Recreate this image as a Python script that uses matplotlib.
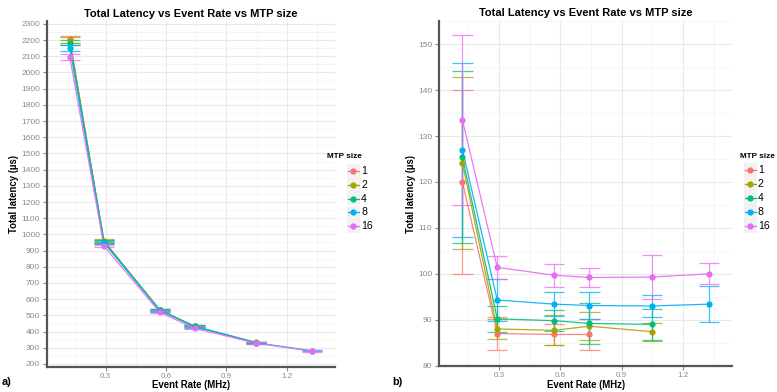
import numpy as np
import matplotlib
matplotlib.use('Agg')
import matplotlib.pyplot as plt
from matplotlib.ticker import MultipleLocator
from matplotlib.lines import Line2D
from matplotlib.patches import Rectangle

##################
# Data
##################

event_rate = [0.122, 0.292, 0.570, 0.742, 1.047, 1.326]
mtp_sizes = ['1', '2', '4', '8', '16']
colors = ['#F8766D', '#A3A500', '#00BF7D', '#00B0F6', '#E76BF3']

# a) total latency, all rates
lat_a = {
    '1': [2205, 955, 532, 432],
    '2': [2200, 960, 533, 433, 333],
    '4': [2185, 955, 531, 432, 332],
    '8': [2150, 948, 529, 430, 331, 281],
    '16': [2095, 928, 518, 420, 328, 279],
}
err_a = {
    '1': [21, 10, 8, 6],
    '2': [18, 9, 7, 6, 5],
    '4': [16, 9, 7, 6, 5],
    '8': [18, 10, 7, 6, 5, 4],
    '16': [20, 8, 6, 5, 5, 4],
}

# b) total latency, zoomed
lat_b = {
    '1': [120.0, 87.0, 86.8, 86.8],
    '2': [124.1, 88.0, 87.7, 88.6, 87.4],
    '4': [125.4, 90.2, 89.8, 89.2, 89.0],
    '8': [127.0, 94.3, 93.4, 93.1, 93.0, 93.4],
    '16': [133.5, 101.4, 99.7, 99.2, 99.3, 100.0],
}
err_b = {
    '1': [20.0, 3.5, 2.2, 3.4],
    '2': [18.7, 2.2, 3.3, 3.0, 2.0],
    '4': [18.7, 2.9, 2.3, 4.5, 3.4],
    '8': [19.0, 4.6, 2.6, 3.0, 2.3, 3.9],
    '16': [18.5, 2.5, 2.5, 2.0, 4.7, 2.3],
}

##################
# Style
##################

plt.rcParams['font.family'] = ['Liberation Sans', 'DejaVu Sans']
tick_color = '#8a8a8a'
axis_color = '#555555'

W, H = 777, 392
fig = plt.figure(figsize=(W / 100, H / 100), dpi=100, facecolor='white')


def px(x, y):
    return x / W, 1 - y / H


def panel(ax, lat, err, ylim, ymajor, yminor):
    for s, c in zip(mtp_sizes, colors):
        y = np.array(lat[s])
        e = np.array(err[s])
        x = np.array(event_rate[:len(y)])
        ax.vlines(x, y - e, y + e, color=c, lw=0.9, alpha=0.75, zorder=2)
        ax.hlines(y - e, x - 0.05, x + 0.05, color=c, lw=0.9, alpha=0.75, zorder=2)
        ax.hlines(y + e, x - 0.05, x + 0.05, color=c, lw=0.9, alpha=0.75, zorder=2)
        ax.plot(x, y, color=c, lw=0.9, alpha=0.9, zorder=3)
        ax.plot(x, y, 'o', color=c, ms=4.5, mec='none', zorder=4)
    ax.set_xlim(0.009, 1.44)
    ax.set_ylim(*ylim)
    ax.xaxis.set_major_locator(MultipleLocator(0.3))
    ax.xaxis.set_minor_locator(MultipleLocator(0.15))
    ax.yaxis.set_major_locator(MultipleLocator(ymajor))
    ax.yaxis.set_minor_locator(MultipleLocator(yminor))
    ax.set_xticks([0.3, 0.6, 0.9, 1.2])
    ax.set_xticklabels(['0.3', '0.6', '0.9', '1.2'])
    ax.grid(which='major', color='#e9e9e9', lw=0.8, zorder=0)
    ax.grid(which='minor', color='#f4f4f4', lw=0.6, zorder=0)
    ax.set_axisbelow(True)
    for sp in ['top', 'right']:
        ax.spines[sp].set_visible(False)
    for sp in ['left', 'bottom']:
        ax.spines[sp].set_color(axis_color)
        ax.spines[sp].set_linewidth(1.6)
    ax.tick_params(which='major', length=3, width=0.8, color=tick_color,
                   labelcolor=tick_color, labelsize=6, pad=2)
    ax.tick_params(axis='x', which='major', pad=1.5, labelsize=5.8)
    ax.tick_params(which='minor', length=0)


def legend(x_title, y_title, x_key, y_keys, x_label):
    fig.text(*px(x_title, y_title), 'MTP size', fontsize=5.9, fontweight='bold',
             va='center', ha='left')
    for s, c, yk in zip(mtp_sizes, colors, y_keys):
        fx, fy = px(x_key, yk)
        fig.patches.append(Rectangle((fx - 6.5 / W, fy - 6.8 / H), 13 / W, 13.6 / H,
                                     transform=fig.transFigure, facecolor='#f2f2f2',
                                     edgecolor='none'))
        fig.add_artist(Line2D([fx - 5.5 / W, fx + 5.5 / W], [fy, fy], color=c, lw=0.9,
                              transform=fig.transFigure))
        fig.add_artist(Line2D([fx], [fy], marker='o', ms=4.5, color=c, mec='none',
                              transform=fig.transFigure))
        fig.text(*px(x_label, yk), s, fontsize=7.6, va='center', ha='left')


##################
# a) panel
##################

ax1 = fig.add_axes([47 / W, 1 - 367 / H, 288 / W, 346 / H])
panel(ax1, lat_a, err_a, (181, 2318), 100, 50)
fig.text(*px(191, 14), 'Total Latency vs Event Rate vs MTP size', fontsize=8,
         fontweight='bold', ha='center', va='center')
fig.text(*px(191, 385.5), 'Event Rate (MHz)', fontsize=6.9, fontweight='bold',
         ha='center', va='center')
fig.text(*px(14, 194), 'Total latency (\u00b5s)', fontsize=6.9, fontweight='bold',
         ha='center', va='center', rotation=90)
fig.text(*px(2, 382), 'a)', fontsize=7.8, fontweight='bold', ha='left', va='center')
legend(327, 157, 353, [171, 184.8, 198.6, 212.4, 226.2], 361)

##################
# b) panel
##################

ax2 = fig.add_axes([439.3 / W, 1 - 365.7 / H, 293 / W, 345 / H])
panel(ax2, lat_b, err_b, (80, 155.1), 10, 5)
fig.text(*px(586, 13), 'Total Latency vs Event Rate vs MTP size', fontsize=8,
         fontweight='bold', ha='center', va='center')
fig.text(*px(586, 385), 'Event Rate (MHz)', fontsize=6.9, fontweight='bold',
         ha='center', va='center')
fig.text(*px(411, 194), 'Total latency (\u00b5s)', fontsize=6.9, fontweight='bold',
         ha='center', va='center', rotation=90)
fig.text(*px(392, 382), 'b)', fontsize=7.8, fontweight='bold', ha='left', va='center')
legend(740.5, 156, 750, [170, 184, 198, 212, 226], 758)

fig.savefig('out.png', dpi=100, facecolor='white')
